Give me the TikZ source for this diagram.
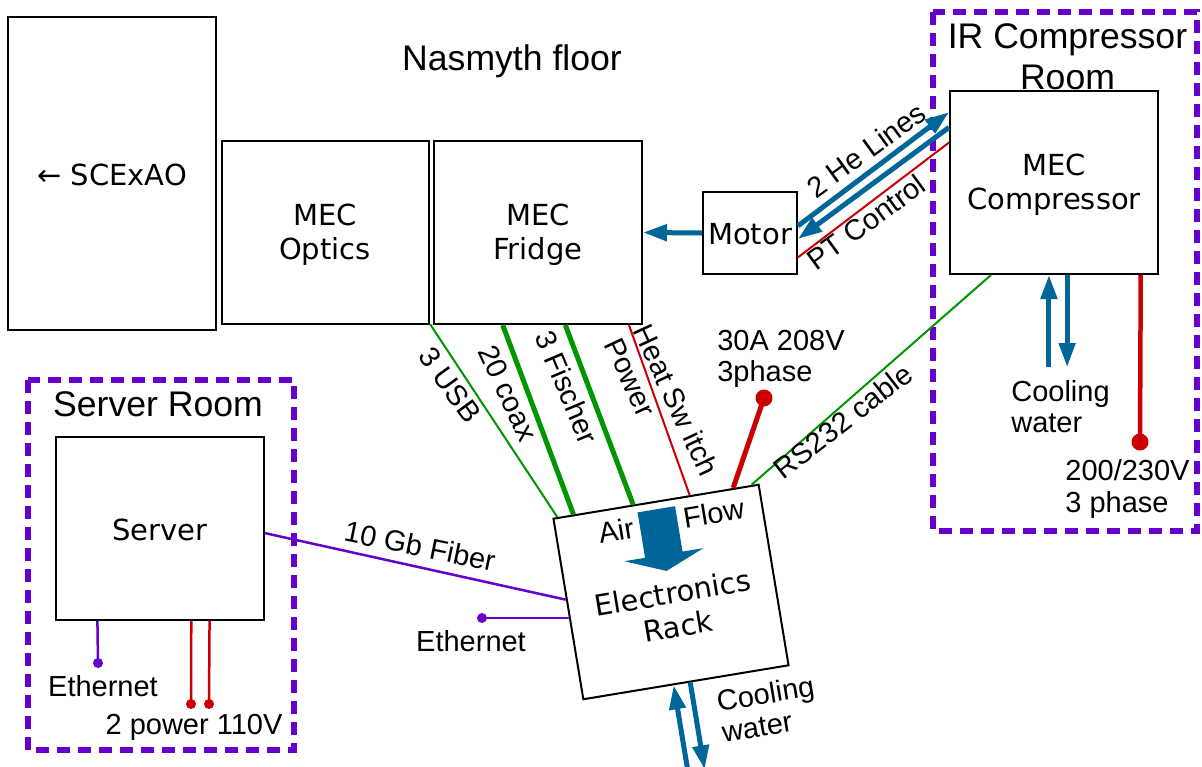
\documentclass[tikz,border=0pt]{standalone}
\usepackage{fontspec}
\setmainfont{Liberation Sans}
\newfontfamily\dvsans{DejaVu Sans}
\usetikzlibrary{calc,arrows.meta}
\definecolor{roomc}{RGB}{102,0,204}
\definecolor{pipec}{RGB}{0,102,153}
\definecolor{wirec}{RGB}{0,150,0}
\definecolor{powc}{RGB}{204,0,0}
\definecolor{netc}{RGB}{102,0,204}
\newcommand{\fntbox}{\dvsans\fontsize{29}{34}\selectfont}
\newcommand{\fntlbl}{\fontsize{29}{31.5}\selectfont}
\newcommand{\fntttl}{\fontsize{35.6}{41}\selectfont}
\begin{document}
\begin{tikzpicture}[x=1pt,y=1pt,
 box/.style={draw, line width=2pt, inner sep=0pt, align=center, font=\fntbox},
 boxtext/.style={inner sep=0pt, align=center, font=\fntbox},
 lbl/.style={inner sep=0pt, align=left, font=\fntlbl},
 ttl/.style={inner sep=0pt, align=center, font=\fntttl},
 room/.style={draw=roomc, line width=6.5pt, dash pattern=on 13pt off 8pt},
 pipe/.style={draw=pipec, line width=5pt, -{Triangle[length=24pt,width=16pt]}},
 gthin/.style={draw=wirec, line width=2pt},
 gthick/.style={draw=wirec, line width=5pt},
 rthin/.style={draw=powc, line width=2pt},
 rthick/.style={draw=powc, line width=5pt},
 net/.style={draw=netc, line width=2.5pt},
]
\useasboundingbox (0,0) rectangle (1202,-766);
\fill[white] (0,0) rectangle (1202,-766);

% rooms
\draw[room] (933,-12) rectangle (1197,-531);
\draw[room] (28,-380) rectangle (294,-750);

% boxes
\node[box, minimum width=208pt, minimum height=313pt] (scexao) at (112,-173.5) {};
\node[box, minimum width=207pt, minimum height=183pt] (optics) at (325,-232) {};
\node[box, minimum width=208pt, minimum height=183pt] (fridge) at (538,-232.5) {};
\node[box, minimum width=94pt, minimum height=82pt] (motor) at (750,-233) {};
\node[box, minimum width=208pt, minimum height=183pt] (comp) at (1054,-182.5) {};
\node[box, minimum width=208pt, minimum height=183pt] (server) at (160,-528.5) {};
\node[box, rotate=9.4, minimum width=208pt, minimum height=183pt] (rack) at (671,-592) {};

\node[boxtext] (tScx) at ($(scexao.center)+(0,-1.5)$) {← SCExAO};
\node[boxtext] (tOpt) at ($(optics.center)+(0,-2.5)$) {MEC\\Optics};
\node[boxtext] (tFri) at ($(fridge.center)+(0,-2.5)$) {MEC\\Fridge};
\node[boxtext] (tMot) at ($(motor.center)+(0,-1)$) {Motor};
\node[boxtext] (tCmp) at ($(comp.center)+(0,-2)$) {MEC\\Compressor};
\node[boxtext] (tSrvB) at ($(server.center)+(0,-1)$) {Server};

% titles
\node[ttl] (tNas) at (512,-61) {Nasmyth floor};
\node[ttl] (tIR) at (1067.5,-57) {IR Compressor\\Room};
\node[ttl] (tSrv) at (158,-404) {Server Room};

% rack interior
\begin{scope}[shift={(rack.center)}, rotate=9.4]
  \fill[pipec] (-20,84) -- (18,84) -- (18,38) -- (39,38) -- (-1,21.5) -- (-41,38) -- (-20,38) -- cycle;
  \node[lbl, rotate=9.4] (tAir) at (-44,70) {Air};
  \node[lbl, rotate=9.4] (tFlow) at (55,71) {Flow};
  \node[boxtext, rotate=9.4] (tRack) at (1.5,-18) {Electronics\\Rack};
\end{scope}

% fridge to rack wires
\coordinate (usbS) at (430,-324);
\draw[gthin] (usbS) -- ($(rack.north west)!0.024!(rack.north east)$);
\draw[gthick] ($(fridge.south west)!0.332!(fridge.south east)$) -- ($(rack.north west)!0.102!(rack.north east)$);
\draw[gthick] ($(fridge.south west)!0.63!(fridge.south east)$) -- ($(rack.north west)!0.39!(rack.north east)$);
\draw[rthin] ($(fridge.south west)!0.933!(fridge.south east)$) -- ($(rack.north west)!0.663!(rack.north east)$);

\node[lbl, rotate=-54] (l3usb) at (450,-385) {3 USB};
\node[lbl, rotate=-65] (l20coax) at (508,-393) {20 coax};
\node[lbl, rotate=-67] (l3fis) at (567,-387) {3 Fischer};
\node[lbl, rotate=-65] (lheat) at (662,-407) {Heat Sw itch\\Power};

% rack power
\coordinate (p30) at (764,-398);
\draw[rthick] ($(rack.north west)!0.873!(rack.north east)$) -- (p30);
\fill[powc] (p30) circle (8.5);
\node[lbl] (l30a) at (781,-359) {30A 208V\\3phase};

% RS232
\draw[gthin] ($(rack.north west)!0.961!(rack.north east)$) -- ($(comp.south west)!0.2!(comp.south east)$);
\node[lbl, rotate=38] (lrs) at (843,-421) {RS232 cable};

% motor / compressor
\draw[pipe] (motor.west) -- (fridge.east);
\draw[pipe] ($(motor.north east)!0.415!(motor.south east)$) -- ($(comp.north west)!0.12!(comp.south west)$);
\draw[pipe] ($(comp.north west)!0.202!(comp.south west)$) -- ($(motor.north east)!0.57!(motor.south east)$);
\draw[rthin] ($(motor.north east)!0.79!(motor.south east)$) -- ($(comp.north west)!0.284!(comp.south west)$);
\node[lbl, rotate=36] (lhe) at (866,-150) {2 He Lines};
\node[lbl, rotate=36] (lpt) at (866,-222) {PT Control};

% compressor cooling and power
\coordinate (cwc1) at ($(comp.south west)!0.476!(comp.south east)$);
\coordinate (cwc2) at ($(comp.south west)!0.5625!(comp.south east)$);
\draw[pipe] ($(cwc1)+(0,-92)$) -- (cwc1);
\draw[pipe] (cwc2) -- ($(cwc2)+(0,-92)$);
\node[lbl] (lcwc) at (1060.5,-406.5) {Cooling\\water};
\coordinate (pc) at (1140,-442);
\draw[draw=powc, line width=4.5pt] ($(comp.south west)!0.913!(comp.south east)$) -- (pc);
\fill[powc] (pc) circle (8.5);
\node[lbl] (lpc) at (1127.5,-489) {200/230V\\3 phase};

% rack cooling
\coordinate (cwr1) at ($(rack.south west)!0.44!(rack.south east)$);
\coordinate (cwr2) at ($(rack.south west)!0.52!(rack.south east)$);
\draw[pipe] ($(cwr1)+(-80.6:92)$) -- (cwr1);
\draw[pipe] (cwr2) -- ($(cwr2)+(-80.6:88)$);
\node[lbl, rotate=9.4] (lcwr) at (768,-709) {Cooling\\water};

% fiber and ethernet
\draw[net] ($(server.north east)!0.525!(server.south east)$) -- ($(rack.north west)!0.448!(rack.south west)$);
\node[lbl, rotate=-11.5] (lfib) at (420,-546) {10 Gb Fiber};
\coordinate (ethR) at (482,-618);
\coordinate (rackL) at ($(rack.north west)!0.547!(rack.south west)$);
\draw[net] (ethR) -- (ethR -| rackL);
\fill[netc] (ethR) circle (5);
\node[lbl] (lethr) at (471,-641) {Ethernet};

% server ethernet and power
\coordinate (sEth) at (98,-663);
\draw[net] ($(server.south west)!0.202!(server.south east)$) -- (sEth);
\fill[netc] (sEth) circle (5);
\node[lbl] (leths) at (103,-686) {Ethernet};
\coordinate (sp1) at (191,-704);
\coordinate (sp2) at (209,-704);
\draw[draw=powc, line width=2.5pt] ($(server.south west)!0.649!(server.south east)$) -- (sp1);
\draw[draw=powc, line width=2.5pt] ($(server.south west)!0.736!(server.south east)$) -- (sp2);
\fill[powc] (sp1) circle (5);
\fill[powc] (sp2) circle (5);
\node[lbl] (lsp) at (194,-727) {2 power 110V};
\end{tikzpicture}
\end{document}
